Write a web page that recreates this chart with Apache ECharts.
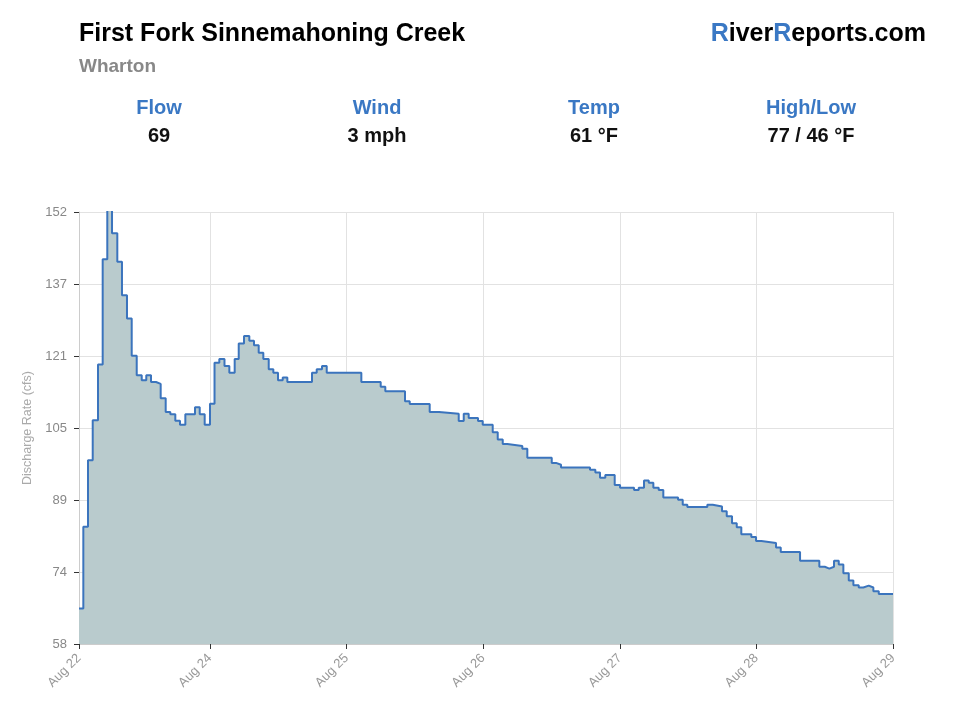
<!DOCTYPE html>
<html>
<head>
<meta charset="utf-8">
<title>First Fork Sinnemahoning Creek - Wharton</title>
<script src="https://cdn.jsdelivr.net/npm/echarts@6/dist/echarts.min.js"></script>
<style>
  html, body { margin: 0; padding: 0; background: #fff; }
  #chart { width: 960px; height: 720px; }
</style>
</head>
<body>
<div id="chart"></div>
<script>
// hours since the start of the axis, at each point where the reading changes
const hours = [
  0.0, 0.76, 1.58, 2.41, 3.34, 4.16, 4.97, 5.80, 6.73, 7.55,
  8.43, 9.26, 10.14, 11.02, 11.82, 12.65, 13.53, 14.35, 15.23, 16.04,
  16.92, 17.74, 18.68, 20.38, 21.21, 22.08, 23.01, 23.81, 24.65, 25.56,
  26.41, 27.35, 28.06, 28.99, 29.92, 30.74, 31.57, 32.38, 33.33, 34.14,
  34.96, 35.79, 36.60, 40.93, 41.76, 42.69, 43.52, 49.60, 53.00, 53.81,
  57.27, 58.10, 61.61, 63.25, 66.71, 67.59, 68.46, 70.10, 70.92, 72.68,
  73.56, 74.44, 75.25, 77.88, 78.76, 83.05, 83.80, 84.68, 89.77, 90.71,
  91.53, 92.46, 94.11, 95.05, 97.51, 98.33, 99.26, 100.09, 100.90, 101.84,
  102.65, 105.24, 106.06, 106.87, 110.38, 111.33, 112.96, 113.79, 114.72, 115.55,
  116.35, 118.11, 118.94, 119.87, 122.45, 123.28, 126.67, 130.06, 131.01, 131.82,
  132.64, 133.47, 134.28, 135.23, 136.04, 136.98, 137.79, 138.74, 139.55, 140.50,
  143.0
];
// discharge (cfs)
const flow = [
  65.7, 83.5, 98.0, 106.7, 118.8, 141.7, 154.0, 147.4, 141.2, 133.9,
  128.8, 120.7, 116.5, 115.4, 116.5, 115.0, 114.6, 111.5, 108.5, 108.0,
  106.6, 105.7, 108.0, 109.5, 108.0, 105.7, 110.3, 119.2, 120.0, 118.5,
  117.0, 120.0, 123.4, 125.0, 124.0, 123.0, 121.4, 120.0, 117.8, 117.0,
  115.4, 116.0, 115.0, 117.0, 117.8, 118.5, 117.0, 115.0, 114.0, 113.0,
  110.8, 110.2, 108.5, 108.1, 106.5, 108.1, 107.2, 106.5, 105.7, 104.1,
  102.5, 101.5, 101.1, 100.5, 98.5, 97.4, 97.0, 96.4, 95.9, 95.3,
  94.2, 94.8, 92.6, 92.0, 91.5, 92.0, 93.6, 93.1, 92.0, 91.5,
  89.9, 89.4, 88.3, 87.8, 88.3, 87.9, 86.9, 85.8, 84.3, 83.4,
  81.9, 81.3, 80.4, 80.0, 79.0, 78.0, 76.1, 74.8, 74.4, 74.8,
  76.1, 75.3, 73.4, 71.8, 70.8, 70.3, 70.7, 70.3, 69.5, 68.9,
  68.9
];

const xTicks = [0, 23, 47, 71, 95, 119, 143];
const xTickLabels = ['Aug 22', 'Aug 24', 'Aug 25', 'Aug 26', 'Aug 27', 'Aug 28', 'Aug 29'];

const yMin = 58, yMax = 152;
const yTickLabels = ['58', '74', '89', '105', '121', '137', '152'];
const yTicks = yTickLabels.map((s, i) => yMin + i * (yMax - yMin) / (yTickLabels.length - 1));

const stats = [
  { label: 'Flow', value: '69', x: 159 },
  { label: 'Wind', value: '3 mph', x: 377 },
  { label: 'Temp', value: '61 °F', x: 594 },
  { label: 'High/Low', value: '77 / 46 °F', x: 811 }
];

const font = '"Liberation Sans", Arial, Helvetica, sans-serif';
const blue = '#3a78c4';

function nearestLabel(ticks, labels, v) {
  for (let i = 0; i < ticks.length; i++) {
    if (Math.abs(ticks[i] - v) < 0.01) return labels[i];
  }
  return '';
}

let graphics = [
  { type: 'text', left: 79, top: 22, style: { text: 'First Fork Sinnemahoning Creek', font: 'bold 25px ' + font, fill: '#000' } },
  { type: 'text', left: 79, top: 57, style: { text: 'Wharton', font: 'bold 19px ' + font, fill: '#888' } },
  { type: 'text', right: 34, top: 22, style: {
      text: '{r|R}iver{r|R}eports.com', font: 'bold 25px ' + font, fill: '#000',
      rich: { r: { font: 'bold 25px ' + font, fill: blue } }
  } }
];
stats.forEach(s => {
  graphics.push({ type: 'text', x: s.x, y: 108, style: { text: s.label, font: 'bold 20px ' + font, fill: blue, align: 'center', verticalAlign: 'middle' } });
  graphics.push({ type: 'text', x: s.x, y: 136, style: { text: s.value, font: 'bold 20px ' + font, fill: '#111', align: 'center', verticalAlign: 'middle' } });
});

const chart = echarts.init(document.getElementById('chart'));
chart.setOption({
  animation: false,
  textStyle: { fontFamily: font },
  graphic: graphics,
  grid: { left: 79, right: 67, top: 212, bottom: 76 },
  xAxis: {
    type: 'value',
    min: 0,
    max: 143,
    axisLine: { show: true, lineStyle: { color: '#ccc' } },
    axisTick: { show: true, length: 5, lineStyle: { color: '#333' }, customValues: xTicks },
    axisLabel: {
      customValues: xTicks,
      rotate: 45, color: '#999', fontSize: 13, margin: 12,
      formatter: v => nearestLabel(xTicks, xTickLabels, v)
    },
    splitLine: { show: true, lineStyle: { color: '#e2e2e2' }, customValues: xTicks }
  },
  yAxis: {
    type: 'value',
    min: yMin,
    max: yMax,
    name: 'Discharge Rate (cfs)',
    nameLocation: 'middle',
    nameGap: 43,
    nameTextStyle: { color: '#aaa', fontSize: 12.5 },
    axisLine: { show: true, lineStyle: { color: '#ccc' } },
    axisTick: { show: true, length: 5, lineStyle: { color: '#333' }, customValues: yTicks },
    axisLabel: {
      customValues: yTicks,
      color: '#888', fontSize: 13, margin: 12,
      formatter: v => nearestLabel(yTicks, yTickLabels, v)
    },
    splitLine: { show: true, lineStyle: { color: '#e2e2e2' }, customValues: yTicks }
  },
  series: [{
    type: 'line',
    step: 'end',
    symbol: 'none',
    clip: true,
    data: hours.map((h, i) => [h, flow[i]]),
    lineStyle: { color: '#3b74bd', width: 2 },
    areaStyle: { color: '#b9cbcd', opacity: 1 }
  }]
});
</script>
</body>
</html>
